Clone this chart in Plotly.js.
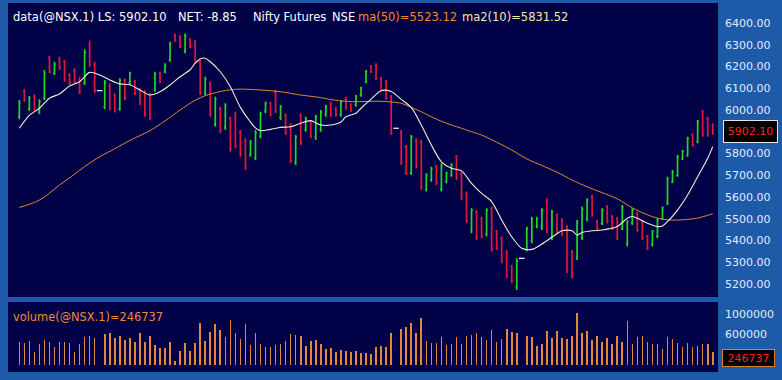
<!DOCTYPE html>
<html>
<head>
<meta charset="utf-8">
<script src="https://cdn.plot.ly/plotly-3.0.1.min.js"></script>
<style>
html,body{margin:0;padding:0;background:#1d5aa8;}
#chart{width:782px;height:380px;}
</style>
</head>
<body>
<div id="chart"></div>
<script>
// ---- Data ----
const openP = [
 5970,6085,6005,6060,5990,6055,6240,6170,6235,6220,
 6160,6180,6140,6125,6300,6210,6089,6015,6110,6065,
 6005,6135,6125,6130,6090,6080,6065,6095,6170,6175,
 6230,6345,6335,6270,6325,6310,6220,6080,6120,5935,
 6005,5920,5960,5980,5900,5860,5795,5780,5880,5995,
 6030,6080,5965,5975,5925,5760,5975,5910,5945,5875,
 5910,5980,6030,6005,5980,6050,6025,6025,6070,6130,
 6200,6205,6145,6130,6060,5916,5900,5830,5710,5860,
 5855,5635,5680,5740,5635,5670,5700,5785,5705,5615,
 5445,5530,5500,5430,5545,5440,5410,5345,5280,5185,
 5318,5360,5400,5465,5460,5580,5415,5515,5495,5460,
 5345,5320,5415,5500,5600,5490,5480,5555,5510,5500,
 5455,5385,5480,5525,5485,5420,5380,5420,5500,5570,
 5670,5700,5775,5790,5885,5855,5990,5960,5930];
const highP = [
 6046,6095,6064,6073,6049,6184,6248,6222,6245,6230,
 6169,6192,6153,6279,6319,6222,6089,6138,6123,6077,
 6146,6146,6176,6138,6100,6092,6077,6176,6176,6215,
 6314,6352,6345,6352,6330,6322,6230,6153,6130,6061,
 6015,6031,5969,5992,5908,5870,5862,5908,5992,6038,
 6038,6092,6023,5985,5939,5885,5985,5969,5954,5977,
 6000,6023,6038,6015,6046,6061,6031,6069,6107,6184,
 6207,6215,6153,6138,6069,5916,5908,5839,5885,5870,
 5862,5709,5739,5747,5755,5716,5755,5793,5716,5625,
 5548,5540,5509,5548,5556,5448,5418,5356,5287,5318,
 5318,5463,5509,5509,5548,5594,5540,5525,5502,5471,
 5356,5494,5556,5594,5609,5494,5548,5563,5517,5509,
 5563,5494,5548,5532,5494,5425,5448,5502,5556,5693,
 5724,5793,5816,5877,5893,5954,6000,5969,5939];
const lowP = [
 5957,6038,5997,5992,5981,6046,6169,6161,6184,6130,
 6115,6123,6074,6115,6199,6077,6089,6003,5999,5988,
 5997,6046,6115,6069,6023,5969,5954,6084,6123,6169,
 6222,6314,6284,6261,6284,6214,6069,6069,5969,5923,
 5893,5908,5808,5824,5785,5724,5785,5770,5870,5985,
 5969,5985,5954,5885,5755,5747,5839,5900,5870,5862,
 5900,5969,5969,5969,5969,6000,5992,6015,6061,6123,
 6169,6138,6084,6046,5885,5916,5747,5701,5701,5732,
 5632,5625,5670,5655,5625,5663,5693,5678,5586,5479,
 5433,5402,5410,5418,5349,5356,5295,5226,5203,5172,
 5318,5349,5387,5456,5448,5433,5402,5433,5418,5249,
 5226,5310,5402,5487,5510,5448,5471,5479,5448,5402,
 5448,5372,5471,5440,5402,5356,5372,5410,5494,5563,
 5663,5693,5770,5785,5831,5847,5877,5877,5885];
const closeP = [
 6030,6045,6055,6000,6040,6170,6175,6210,6195,6140,
 6125,6130,6085,6265,6210,6090,6089,6125,6010,5995,
 6135,6055,6170,6075,6030,5980,5965,6165,6130,6205,
 6305,6320,6290,6340,6290,6225,6080,6140,5980,6050,
 5905,6020,5820,5835,5795,5735,5850,5895,5980,6030,
 5980,5995,6015,5895,5770,5875,5850,5960,5880,5965,
 5990,6015,5980,5980,6035,6010,6000,6060,6100,6175,
 6175,6145,6090,6055,5895,5916,5760,5710,5875,5740,
 5645,5700,5730,5665,5745,5710,5745,5690,5600,5490,
 5540,5415,5420,5540,5360,5365,5305,5240,5215,5305,
 5318,5455,5500,5500,5540,5445,5530,5445,5430,5260,
 5240,5485,5545,5585,5520,5455,5540,5490,5455,5410,
 5555,5485,5540,5450,5410,5365,5440,5495,5550,5685,
 5715,5785,5810,5870,5840,5945,5890,5885,5902.10];
const volume = [
 455000,422000,475000,260000,403000,488000,455000,358000,442000,455000,
 436000,260000,410000,553000,566000,520000,null,605000,631000,520000,
 566000,488000,520000,455000,618000,455000,566000,390000,325000,325000,
 442000,78000,280000,436000,280000,436000,812000,475000,650000,793000,
 683000,553000,878000,618000,500000,793000,390000,618000,410000,358000,
 358000,390000,410000,475000,605000,585000,566000,370000,475000,488000,
 410000,306000,338000,260000,293000,280000,260000,280000,228000,228000,
 215000,358000,370000,358000,618000,null,696000,735000,812000,618000,
 910000,475000,436000,436000,553000,390000,410000,540000,410000,566000,
 585000,618000,540000,488000,683000,442000,500000,696000,650000,631000,
 null,566000,540000,370000,410000,670000,520000,670000,520000,500000,
 566000,1008000,631000,670000,488000,566000,455000,520000,410000,566000,
 455000,858000,410000,540000,566000,455000,403000,410000,312000,553000,
 500000,436000,358000,436000,345000,370000,410000,410000,246737];

// moving averages (bar index, value)
const ma10Idx = [0,2,4,6,8,10,12,14,16,18,20,22,24,26,28,30,32,34,35,36,
 37,38,40,42,44,46,47,48,50,52,54,56,58,60,62,64,65,67,68,70,
 72,74,76,78,80,82,84,86,88,90,92,94,96,98,100,102,104,106,108,110,
 111,112,114,116,119,121,122,123,125,127,128,129,131,133,135,137,138];
const ma10Val = [5916,5975,6008,6054,6074,6110,6130,6173,6161,6138,6120,6116,6092,6069,6084,6115,6153,6185,6215,6235,
 6238,6222,6176,6107,6012,5945,5918,5905,5911,5920,5923,5939,5951,5931,5931,5945,5969,5985,6008,6050,
 6089,6085,6049,6012,5931,5839,5762,5732,5720,5663,5617,5579,5494,5417,5364,5359,5384,5415,5445,5445,
 5425,5437,5445,5448,5464,5502,5510,5502,5479,5464,5467,5487,5540,5609,5693,5778,5831.52];
const ma50Idx = [0,3,5,8,11,13,16,19,22,26,29,32,35,37,40,42,44,48,52,56,
 60,62,64,67,70,72,76,78,80,82,84,86,88,90,92,95,98,101,104,107,
 110,113,116,119,122,125,127,129,131,133,135,138];
const ma50Val = [5552,5575,5600,5655,5705,5740,5785,5822,5860,5905,5950,6000,6045,6066,6085,6093,6096,6092,6084,6069,
 6057,6048,6042,6038,6040,6040,6031,6012,5992,5969,5948,5931,5916,5900,5885,5852,5816,5775,5745,5714,
 5678,5647,5620,5592,5550,5518,5503,5495,5494,5497,5503,5523.12];

// axis labels visible in the picture (5900.00 is hidden behind the last-price box)
const priceTicks = [5200,5300,5400,5500,5600,5700,5800,6000,6100,6200,6300,6400];
const volTicks = [600000,1000000];
const volTickText = ['600000','1000000'];

// header pieces and their left edges (pixels) as seen in the picture
const headerParts = [
  {text:'data(@NSX.1) LS: ' + closeP[closeP.length-1].toFixed(2), color:'#ffffff', left:13},
  {text:'NET: -8.85', color:'#ffffff', left:178},
  {text:'Nifty Futures', color:'#ffffff', left:253},
  {text:'NSE', color:'#ffffff', left:332},
  {text:'ma(50)=' + ma50Val[ma50Val.length-1].toFixed(2), color:'#f08c2c', left:358},
  {text:'ma2(10)=' + ma10Val[ma10Val.length-1].toFixed(2), color:'#f4eaa6', left:462}
];

// ---- Build traces ----
const barIdx = closeP.map((_, i) => i);
const ox=[], oo=[], oh=[], ol=[], oc=[], dx=[], dy=[];
barIdx.forEach(i => {
  if (highP[i] === lowP[i]) { dx.push(i); dy.push(closeP[i]); }
  else { ox.push(i); oo.push(openP[i]); oh.push(highP[i]); ol.push(lowP[i]); oc.push(closeP[i]); }
});

const FONT = 'DejaVu Sans, Verdana, sans-serif';
const lastClose = closeP[closeP.length-1];
const lastVol = volume[volume.length-1];

const traces = [
  {type:'ohlc', x:ox, open:oo, high:oh, low:ol, close:oc, xaxis:'x', yaxis:'y',
   increasing:{line:{color:'#20d820', width:1.7}},
   decreasing:{line:{color:'#e3163c', width:1.7}},
   tickwidth:0.25, hoverinfo:'skip'},
  {type:'scatter', mode:'markers', x:dx, y:dy, xaxis:'x', yaxis:'y',
   marker:{symbol:'line-ew-open', size:4, color:'#ffffff', line:{color:'#ffffff', width:1.2}}, hoverinfo:'skip'},
  {type:'scatter', mode:'lines', x:ma50Idx, y:ma50Val, xaxis:'x', yaxis:'y',
   line:{color:'#e08a30', width:1, shape:'spline', smoothing:0.8}, hoverinfo:'skip'},
  {type:'scatter', mode:'lines', x:ma10Idx, y:ma10Val, xaxis:'x', yaxis:'y',
   line:{color:'#f2eecc', width:1.1, shape:'spline', smoothing:0.8}, hoverinfo:'skip'},
  {type:'bar', x:barIdx, y:volume, xaxis:'x', yaxis:'y2', width:0.32,
   marker:{color:'#e3883a', line:{width:0}}, hoverinfo:'skip'}
];

const plotTop = 3, plotBot = 372, plotH = plotBot - plotTop;
const plotL = 8, plotW = 710;
const py = px => (plotBot - px) / plotH; // pixel y -> paper fraction
const pxX = px => (px - plotL) / plotW;  // pixel x -> paper fraction
const priceDom = [py(297), 1];
const volDom = [0, py(302)];
const NAVY = '#000046';

const annotations = headerParts.map(p => ({
  xref:'paper', yref:'paper', x:pxX(p.left - 2), y:py(17), xanchor:'left', yanchor:'middle',
  showarrow:false, font:{family:FONT, size:11.5, color:p.color}, text:p.text
}));
annotations.push(
  {xref:'paper', yref:'paper', x:pxX(11), y:py(316.5), xanchor:'left', yanchor:'middle',
   showarrow:false, font:{family:FONT, size:11.4, color:'#f08c2c'},
   text:'volume(@NSX.1)=' + lastVol},
  {xref:'paper', yref:'y', x:pxX(750.5), y:lastClose, xanchor:'center', yanchor:'middle',
   showarrow:false, bgcolor:'#000000', bordercolor:'#e6e6e6', borderwidth:1, borderpad:2,
   width:49, height:17, font:{family:FONT, size:11, color:'#ff2020'},
   text:lastClose.toFixed(2)},
  {xref:'paper', yref:'paper', x:pxX(748.5), y:py(358.3), xanchor:'center', yanchor:'middle',
   showarrow:false, bgcolor:'#000000', bordercolor:'#d8802c', borderwidth:1, borderpad:2,
   width:47, height:12, font:{family:FONT, size:11, color:'#ff2020'},
   text:String(lastVol)}
);

const layout = {
  width:782, height:380,
  margin:{l:plotL, r:782-plotL-plotW, t:plotTop, b:380-plotBot, pad:0},
  paper_bgcolor:'#1d5aa8', plot_bgcolor:'rgba(0,0,0,0)',
  showlegend:false, bargap:0,
  xaxis:{range:[-2.25,139.05], showgrid:false, zeroline:false, showline:false,
         showticklabels:false, ticks:'', rangeslider:{visible:false}, fixedrange:true},
  yaxis:{domain:priceDom, range:[5140.2,6492], side:'right', anchor:'x',
         tickvals:priceTicks, tickformat:'.2f', showgrid:false, zeroline:false, showline:false,
         ticks:'', ticklabelstandoff:6,
         tickfont:{family:FONT, size:11, color:'#e2eafa'}},
  yaxis2:{domain:volDom, range:[-136500,1228500], side:'right', anchor:'x',
         tickvals:volTicks, ticktext:volTickText, showgrid:false, zeroline:false, showline:false,
         ticks:'', ticklabelstandoff:6,
         tickfont:{family:FONT, size:11, color:'#e2eafa'}},
  shapes:[
    {type:'rect', layer:'below', xref:'paper', yref:'paper', x0:0, x1:1, y0:priceDom[0], y1:1,
     fillcolor:NAVY, line:{width:0}},
    {type:'rect', layer:'below', xref:'paper', yref:'paper', x0:0, x1:1, y0:0, y1:volDom[1],
     fillcolor:NAVY, line:{width:0}}
  ],
  annotations:annotations
};

Plotly.newPlot('chart', traces, layout, {displayModeBar:false, staticPlot:true});
</script>
</body>
</html>
